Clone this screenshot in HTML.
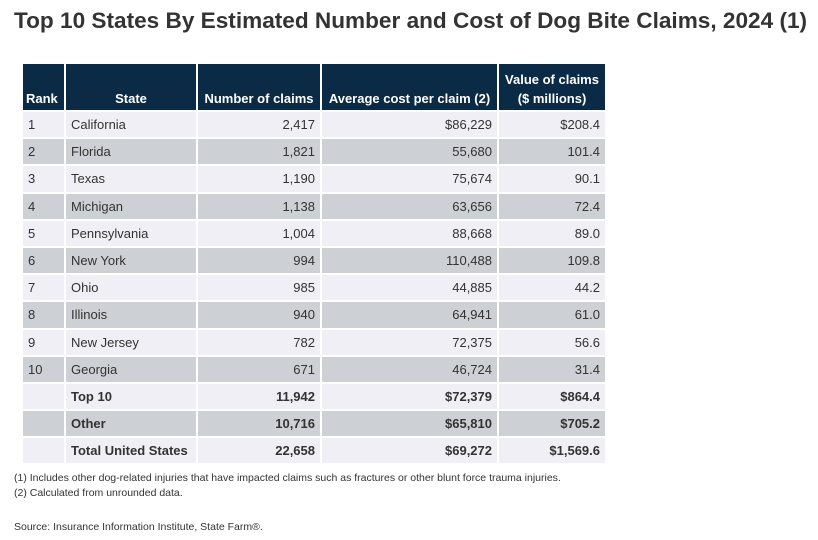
<!DOCTYPE html>
<html><head><meta charset="utf-8"><style>
body{margin:0;width:818px;height:540px;background:#fff;font-family:"Liberation Sans",sans-serif;color:#333;position:relative;overflow:hidden}
h1{position:absolute;left:14px;top:8px;margin:0;font-size:22.6px;font-weight:bold;color:#333;white-space:nowrap}
table{position:absolute;left:21px;top:62px;border-collapse:separate;border-spacing:2px;font-size:13px}
th{background:#0b2a45;color:#fff;font-weight:bold;height:44px;padding:0 3px 2px;vertical-align:bottom;font-size:13px;line-height:19px}
td{height:25.2px;padding:0 5px;line-height:25px}
tr:nth-child(odd) td{background:#efeff5}
tr:nth-child(even) td{background:#cdd0d4}
.r{text-align:right}
.b td{font-weight:bold}
.note{position:absolute;left:14px;font-size:10.5px;color:#333;white-space:nowrap}
</style></head><body>
<h1>Top 10 States By Estimated Number and Cost of Dog Bite Claims, 2024 (1)</h1>
<table>
<thead><tr>
<th style="width:35px;text-align:left">Rank</th>
<th style="width:124px">State</th>
<th style="width:116px">Number of claims</th>
<th style="width:169px">Average cost per claim (2)</th>
<th style="width:100px">Value of claims<br>($ millions)</th>
</tr></thead>
<tbody>
<tr><td>1</td><td>California</td><td class="r">2,417</td><td class="r">$86,229</td><td class="r">$208.4</td></tr>
<tr><td>2</td><td>Florida</td><td class="r">1,821</td><td class="r">55,680</td><td class="r">101.4</td></tr>
<tr><td>3</td><td>Texas</td><td class="r">1,190</td><td class="r">75,674</td><td class="r">90.1</td></tr>
<tr><td>4</td><td>Michigan</td><td class="r">1,138</td><td class="r">63,656</td><td class="r">72.4</td></tr>
<tr><td>5</td><td>Pennsylvania</td><td class="r">1,004</td><td class="r">88,668</td><td class="r">89.0</td></tr>
<tr><td>6</td><td>New York</td><td class="r">994</td><td class="r">110,488</td><td class="r">109.8</td></tr>
<tr><td>7</td><td>Ohio</td><td class="r">985</td><td class="r">44,885</td><td class="r">44.2</td></tr>
<tr><td>8</td><td>Illinois</td><td class="r">940</td><td class="r">64,941</td><td class="r">61.0</td></tr>
<tr><td>9</td><td>New Jersey</td><td class="r">782</td><td class="r">72,375</td><td class="r">56.6</td></tr>
<tr><td>10</td><td>Georgia</td><td class="r">671</td><td class="r">46,724</td><td class="r">31.4</td></tr>
<tr class="b"><td></td><td>Top 10</td><td class="r">11,942</td><td class="r">$72,379</td><td class="r">$864.4</td></tr>
<tr class="b"><td></td><td>Other</td><td class="r">10,716</td><td class="r">$65,810</td><td class="r">$705.2</td></tr>
<tr class="b"><td></td><td>Total United States</td><td class="r">22,658</td><td class="r">$69,272</td><td class="r">$1,569.6</td></tr>
</tbody></table>
<div class="note" style="top:472px">(1) Includes other dog-related injuries that have impacted claims such as fractures or other blunt force trauma injuries.</div>
<div class="note" style="top:487px">(2) Calculated from unrounded data.</div>
<div class="note" style="top:521px">Source: Insurance Information Institute, State Farm®.</div>
</body></html>
